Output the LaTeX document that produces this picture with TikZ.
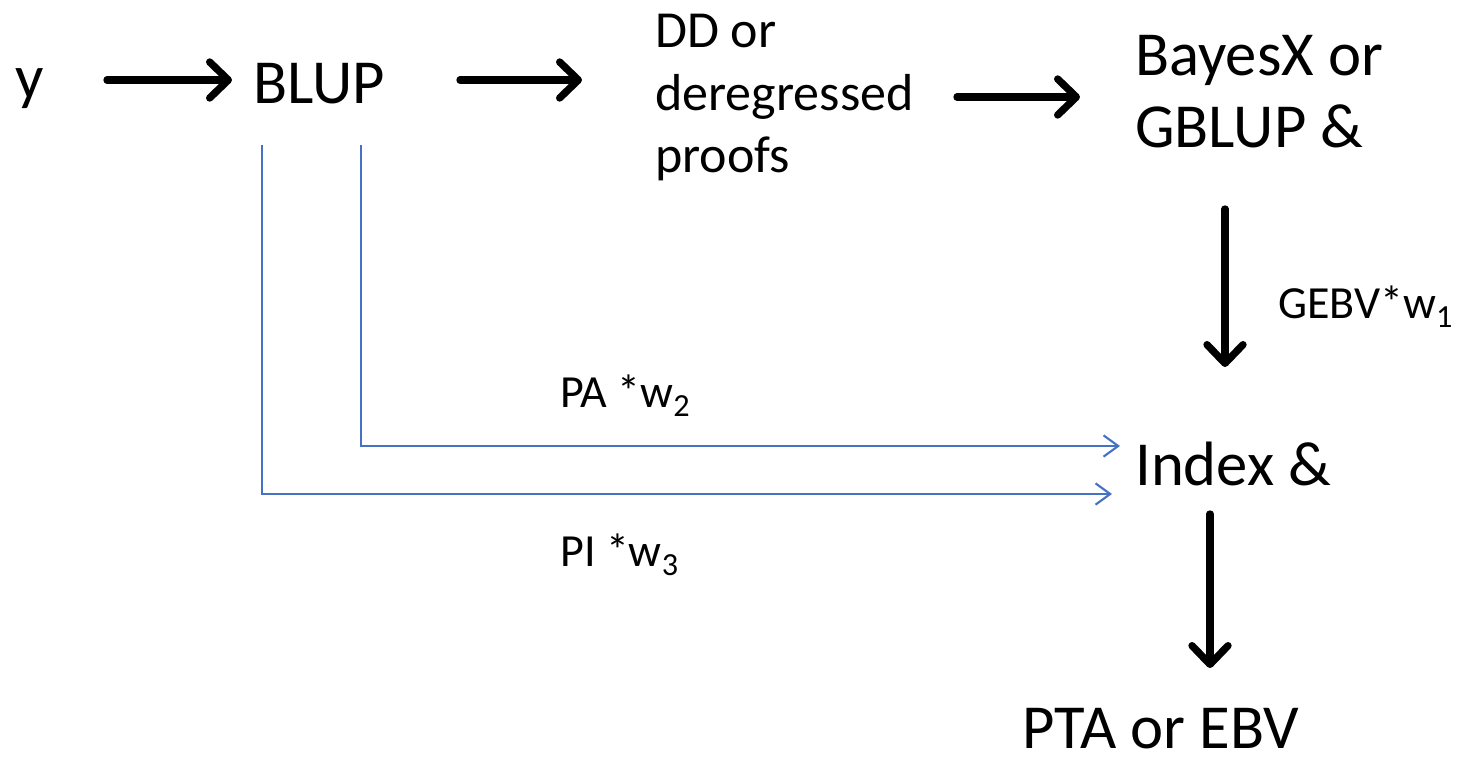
\documentclass[tikz,border=0pt]{standalone}
\usepackage{fontspec}
\setmainfont{Carlito}
\usetikzlibrary{arrows.meta}
\definecolor{bl}{RGB}{68,114,196}
\begin{document}
\begin{tikzpicture}[x=0.75pt,y=-0.75pt,
  big/.style={font=\fontsize{47}{54}\selectfont, inner sep=0pt, align=left},
  med/.style={font=\fontsize{39}{47}\selectfont, inner sep=0pt, align=left},
  small/.style={font=\fontsize{34.5}{40}\selectfont, inner sep=0pt},
  blk/.style={line width=5.5pt, line cap=round, -{Straight Barb[length=14pt,width=27pt,round]}},
  blu/.style={bl, line width=1.6pt, -{Straight Barb[length=11pt,width=16pt]}}]
\useasboundingbox (0,0) rectangle (1460,761);
\node[big, anchor=base west] (y) at (15,98) {y};
\node[big, anchor=base west] (blup) at (253,103) {BLUP};
\node[med, anchor=north west] (dd) at (655,14) {DD or\\deregressed\\proofs};
\node[big, anchor=north west] (bx) at (1135,35) {BayesX or\\GBLUP \&};
\node[big, anchor=base west] (idx) at (1135,485) {Index \&};
\node[big, anchor=base west] (pta) at (1022,748) {PTA or EBV};
\node[small, anchor=base west] (gebv) at (1278,318) {GEBV*w\textsubscript{1}};
\node[small, anchor=base west] (pa) at (560,407) {PA *w\textsubscript{2}};
\node[small, anchor=base west] (pi) at (560,566) {PI *w\textsubscript{3}};
\coordinate (a1s) at (107,80);
\coordinate (a1e) at (232,80);
\coordinate (a2s) at (460,80);
\coordinate (a2e) at (582,80);
\coordinate (a3s) at (957,97);
\coordinate (a3e) at (1080,97);
\coordinate (a4s) at (1225,209);
\coordinate (a4e) at (1225,367);
\coordinate (a5s) at (1210,514);
\coordinate (a5e) at (1210,668);
\coordinate (c1) at (262,145);
\coordinate (c2) at (361,145);
\coordinate (c1e) at (1112,494);
\coordinate (c2e) at (1120,446);
\draw[blk] (a1s) -- (a1e);
\draw[blk] (a2s) -- (a2e);
\draw[blk] (a3s) -- (a3e);
\draw[blk] (a4s) -- (a4e);
\draw[blk] (a5s) -- (a5e);
\draw[blu] (c1) |- (c1e);
\draw[blu] (c2) |- (c2e);
\end{tikzpicture}
\end{document}
